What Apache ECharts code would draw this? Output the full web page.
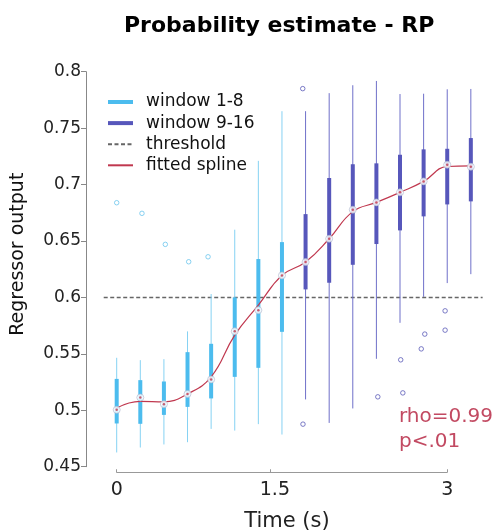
<!DOCTYPE html>
<html>
<head>
<meta charset="utf-8">
<script src="https://cdn.jsdelivr.net/npm/echarts@6/dist/echarts.min.js"></script>
<style>
  html, body { margin: 0; padding: 0; background: #fff; }
  #chart { width: 498px; height: 532px; }
</style>
</head>
<body>
<div id="chart"></div>
<script>
// window index (0..15) -> [min, q1, median, q3, max]
const earlyBoxes = [
    [0, 0.4626, 0.4883, 0.5004, 0.5278, 0.5465],
    [1, 0.4670, 0.4880, 0.5113, 0.5267, 0.5444],
    [2, 0.4697, 0.4959, 0.5054, 0.5255, 0.5453],
    [3, 0.4717, 0.5030, 0.5145, 0.5515, 0.5699],
    [4, 0.4835, 0.5105, 0.5273, 0.5589, 0.6030],
    [5, 0.4820, 0.5296, 0.5700, 0.6000, 0.6600],
    [6, 0.4877, 0.5376, 0.5887, 0.6340, 0.7210],
    [7, 0.4785, 0.5695, 0.6195, 0.6490, 0.7650]
];
const lateBoxes = [
    [8, 0.5096, 0.6071, 0.6313, 0.6738, 0.7650],
    [9, 0.4888, 0.6130, 0.6520, 0.7058, 0.7810],
    [10, 0.5016, 0.6289, 0.6777, 0.7180, 0.7880],
    [11, 0.5456, 0.6473, 0.6842, 0.7188, 0.7918],
    [12, 0.5775, 0.6594, 0.6931, 0.7264, 0.7802],
    [13, 0.6005, 0.6718, 0.7028, 0.7312, 0.7805],
    [14, 0.6127, 0.6824, 0.7176, 0.7317, 0.7844],
    [15, 0.6206, 0.6851, 0.7158, 0.7412, 0.7847]
];
const earlyOutliers = [[0, 0.6839], [1.07, 0.6745], [2.06, 0.647], [3.05, 0.6316], [3.87, 0.636]];
const lateOutliers = [
    [7.88, 0.785], [7.89, 0.4877], [11.06, 0.5119], [12.12, 0.5154], [12.03, 0.5447],
    [12.9, 0.5544], [13.05, 0.5675], [13.91, 0.571], [13.91, 0.5881]
];
const splineVals = [0.502, 0.5078, 0.5075, 0.5145, 0.5296, 0.5666, 0.5932, 0.6195,
    0.6313, 0.652, 0.676, 0.6842, 0.6931, 0.7028, 0.716, 0.7165];
const threshold = 0.6;
const thresholdSpan = [-0.55, 15.5];
const xTickPos = [0, 6.5, 14];
const xLabelPos = [0, 6.7, 14];
const xTickLabels = ['0', '1.5', '3'];
const statsText = ['rho=0.99', 'p<.01'];

const FONT = 'DejaVu Sans';
const lightBox = '#4cbcee', lightWhisker = '#86d2f3';
const darkBox = '#5757bb', darkWhisker = '#6f70c9';
const splineColor = '#c0384f';

function boxRenderer(boxColor, whiskerColor) {
    return function (params, api) {
        const x = api.value(0);
        const lo = api.coord([x, api.value(1)]);
        const q1 = api.coord([x, api.value(2)]);
        const q3 = api.coord([x, api.value(4)]);
        const hi = api.coord([x, api.value(5)]);
        return {
            type: 'group',
            children: [
                { type: 'line', shape: { x1: lo[0], y1: lo[1], x2: hi[0], y2: hi[1] },
                  style: { stroke: whiskerColor, lineWidth: 1 } },
                { type: 'rect', shape: { x: q1[0] - 2, y: q3[1], width: 4, height: q1[1] - q3[1] },
                  style: { fill: boxColor } }
            ]
        };
    };
}

const medians = earlyBoxes.concat(lateBoxes).map(b => [b[0], b[3]]);

const chart = echarts.init(document.getElementById('chart'));
chart.setOption({
    animation: false,
    textStyle: { fontFamily: FONT },
    title: {
        text: 'Probability estimate - RP',
        left: 124, top: 15, padding: 0,
        textStyle: { fontFamily: FONT, fontSize: 22, fontWeight: 'bold', color: '#000' }
    },
    legend: {
        orient: 'vertical', left: 107, top: 93, padding: 0,
        itemWidth: 25, itemHeight: 4, itemGap: 3.1,
        textStyle: { fontFamily: FONT, fontSize: 17, color: '#111', lineHeight: 18, padding: [0, 0, 0, 8] },
        data: [
            { name: 'window 1-8', icon: 'rect' },
            { name: 'window 9-16', icon: 'rect' },
            { name: 'threshold', itemStyle: { opacity: 0 } },
            { name: 'fitted spline', itemStyle: { opacity: 0 } }
        ]
    },
    grid: [
        { left: 86, right: 13, top: 71.7, bottom: 65.3 },
        { left: 116.69, width: 330.5, top: 472, height: 1 }
    ],
    xAxis: [
        { gridIndex: 0, type: 'value', min: -1.3, max: 15.6, show: false },
        {
            gridIndex: 1, type: 'value', min: 0, max: 14,
            name: 'Time (s)', nameLocation: 'middle', nameGap: 39,
            nameTextStyle: { fontFamily: FONT, fontSize: 21, color: '#222', padding: [0, 0, 0, 10] },
            axisLine: { onZero: false, lineStyle: { color: '#999', width: 1 } },
            axisTick: { inside: true, length: 3, lineStyle: { color: '#999' }, customValues: xTickPos },
            axisLabel: {
                fontFamily: FONT, fontSize: 19, color: '#222', margin: 8,
                customValues: xLabelPos,
                formatter: v => xTickLabels[xLabelPos.indexOf(v)] || ''
            },
            splitLine: { show: false }
        }
    ],
    yAxis: [
        {
            gridIndex: 0, type: 'value', min: 0.45, max: 0.8, interval: 0.05,
            name: 'Regressor output', nameLocation: 'middle', nameGap: 58,
            nameTextStyle: { fontFamily: FONT, fontSize: 19, color: '#111', padding: [0, 0, 0, 30] },
            axisLine: { show: true, onZero: false, lineStyle: { color: '#888', width: 1 } },
            axisTick: { show: true, length: 5, lineStyle: { color: '#888' } },
            axisLabel: { fontFamily: FONT, fontSize: 17, color: '#222', margin: 5,
                formatter: v => String(Math.round(v * 100) / 100) },
            splitLine: { show: false }
        },
        { gridIndex: 1, type: 'value', show: false }
    ],
    series: [
        {
            name: 'threshold', type: 'line', xAxisIndex: 0, yAxisIndex: 0,
            data: thresholdSpan.map(x => [x, threshold]),
            symbol: 'none', silent: true,
            lineStyle: { color: '#666', width: 1.5, type: [4, 2.5] },
            itemStyle: { color: '#666' }, z: 1
        },
        {
            name: 'window 1-8', type: 'custom', xAxisIndex: 0, yAxisIndex: 0,
            data: earlyBoxes, renderItem: boxRenderer(lightBox, lightWhisker),
            itemStyle: { color: lightBox }, z: 2
        },
        {
            name: 'window 9-16', type: 'custom', xAxisIndex: 0, yAxisIndex: 0,
            data: lateBoxes, renderItem: boxRenderer(darkBox, darkWhisker),
            itemStyle: { color: darkBox }, z: 2
        },
        {
            name: 'window 1-8 outliers', type: 'scatter', xAxisIndex: 0, yAxisIndex: 0,
            data: earlyOutliers, symbol: 'circle', symbolSize: 4.5,
            itemStyle: { color: '#fff', borderColor: '#6cc6ee', borderWidth: 1 }, z: 3
        },
        {
            name: 'window 9-16 outliers', type: 'scatter', xAxisIndex: 0, yAxisIndex: 0,
            data: lateOutliers, symbol: 'circle', symbolSize: 4.5,
            itemStyle: { color: '#fff', borderColor: '#5a5ab8', borderWidth: 1 }, z: 3
        },
        {
            name: 'fitted spline', type: 'line', xAxisIndex: 0, yAxisIndex: 0,
            data: splineVals.map((v, i) => [i, v]),
            smooth: 0.45, symbol: 'none',
            lineStyle: { color: splineColor, width: 1.2 },
            itemStyle: { color: splineColor }, z: 4
        },
        {
            name: 'median', type: 'scatter', xAxisIndex: 0, yAxisIndex: 0,
            data: medians, symbolSize: 7,
            itemStyle: { color: '#fff', borderColor: '#aab4cc', borderWidth: 0.8 }, z: 5
        },
        {
            name: 'median dot', type: 'scatter', xAxisIndex: 0, yAxisIndex: 0,
            data: medians, symbolSize: 2.5,
            itemStyle: { color: splineColor }, z: 6
        }
    ],
    graphic: [{
        type: 'text', left: 399, top: 404,
        style: {
            text: statsText.join('\n'),
            font: '20px "DejaVu Sans"', lineHeight: 25, fill: '#c24a62'
        }
    }]
});
</script>
</body>
</html>
